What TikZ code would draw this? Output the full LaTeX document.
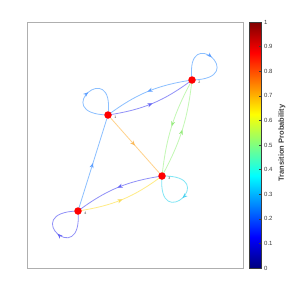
\documentclass[tikz,border=0pt]{standalone}
\usepackage{fontspec}
\setmainfont{Liberation Sans}
\usetikzlibrary{arrows.meta,decorations.markings}

\definecolor{cLB}{RGB}{140,192,255}
\definecolor{cLBd}{RGB}{95,160,255}
\definecolor{cBl}{RGB}{145,145,248}
\definecolor{cBld}{RGB}{100,100,245}
\definecolor{cCy}{RGB}{130,230,245}
\definecolor{cCyd}{RGB}{80,210,240}
\definecolor{cGr}{RGB}{195,248,180}
\definecolor{cGrd}{RGB}{150,235,125}
\definecolor{cOr}{RGB}{255,210,140}
\definecolor{cOrd}{RGB}{250,185,90}
\definecolor{cYe}{RGB}{255,236,135}
\definecolor{cYed}{RGB}{250,220,90}
\definecolor{frameg}{RGB}{175,175,175}
\definecolor{txtg}{RGB}{60,60,60}

\definecolor{jA}{rgb}{0,0,0.5}
\definecolor{jB}{rgb}{0,0,1}
\definecolor{jC}{rgb}{0,1,1}
\definecolor{jD}{rgb}{1,1,0}
\definecolor{jE}{rgb}{1,0,0}
\definecolor{jF}{rgb}{0.5,0,0}
\pgfdeclareverticalshading{jetbar}{100bp}{color(0bp)=(jA); color(25bp)=(jA); color(31.25bp)=(jB); color(43.75bp)=(jC); color(56.25bp)=(jD); color(68.75bp)=(jE); color(75bp)=(jF); color(100bp)=(jF)}

\tikzset{
  edge/.style={line width=0.8pt},
  mid/.style={postaction={decorate},decoration={markings,mark=at position 0.5 with {\arrow[#1]{Stealth[length=5pt,width=4pt,inset=1.6pt]}}}},
  vert/.style={circle,fill=red,draw=none,inner sep=0pt,minimum size=7.5pt},
  vlbl/.style={font=\fontsize{3.5}{4}\selectfont,text=txtg,inner sep=0.2pt,anchor=north west},
  ticklbl/.style={font=\fontsize{6}{7}\selectfont,text=txtg,anchor=west,inner sep=0pt}
}

\begin{document}
\begin{tikzpicture}[x=1pt,y=1pt]
\useasboundingbox (0,0) rectangle (304,290);
\fill[white] (0,0) rectangle (304,290);

% plot frame
\draw[frameg,line width=1pt] (27,22) rectangle (243,268);

% vertex positions
\coordinate (A) at (108,175);
\coordinate (B) at (192,210);
\coordinate (C) at (162,114);
\coordinate (D) at (78,79);

% edges between vertices
\draw[edge,cBl,mid=cBld] (A) to[bend right=14] (B);
\draw[edge,cLB,mid=cLBd] (B) to[bend right=14] (A);
\draw[edge,cGr,mid=cGrd] (B) to[bend right=11] (C);
\draw[edge,cGr,mid=cGrd] (C) to[bend right=11] (B);
\draw[edge,cBl,mid=cBld] (C) to[bend right=14] (D);
\draw[edge,cYe,mid=cYed] (D) to[bend right=14] (C);
\draw[edge,cOr,mid=cOrd] (A) -- (C);
\draw[edge,cLB,mid=cLBd] (D) -- (A);

% self loops
\draw[edge,cLB,mid=cLBd] (A) .. controls +(179:60) and +(83:60) .. (A);
\draw[edge,cLB,mid=cLBd] (B) .. controls +(97:60) and +(1:60) .. (B);
\draw[edge,cCy,mid=cCyd] (C) .. controls +(1:60) and +(-95:60) .. (C);
\draw[edge,cBl,mid=cBld] (D) .. controls +(-85:60) and +(181:60) .. (D);

% vertices
\node[vert] (nA) at (A) {};
\node[vert] (nB) at (B) {};
\node[vert] (nC) at (C) {};
\node[vert] (nD) at (D) {};
\node[vlbl] (lA) at ([xshift=2pt,yshift=-1pt]nA.east) {1};
\node[vlbl] (lB) at ([xshift=2pt,yshift=-1pt]nB.east) {2};
\node[vlbl] (lC) at ([xshift=2pt,yshift=-1pt]nC.east) {3};
\node[vlbl] (lD) at ([xshift=2pt,yshift=-1pt]nD.east) {4};

% colorbar
\shade[shading=jetbar] (249,22) rectangle (261,268);
\draw[txtg,line width=0.5pt] (249,22) rectangle (261,268);
\foreach \i in {0,...,10}{
  \pgfmathsetmacro{\yy}{22+\i*24.6}
  \draw[txtg,line width=0.4pt] (259,\yy) -- (261,\yy);
  \ifnum\i=0
    \node[ticklbl] at (264,\yy) {0};
  \else\ifnum\i=10
    \node[ticklbl] at (264,\yy) {1};
  \else
    \node[ticklbl] at (264,\yy) {0.\i};
  \fi\fi
}
\node[font=\bfseries\fontsize{7.5}{9}\selectfont,text=txtg,rotate=90] (cbl) at (282,147) {Transition Probability};
\end{tikzpicture}
\end{document}
